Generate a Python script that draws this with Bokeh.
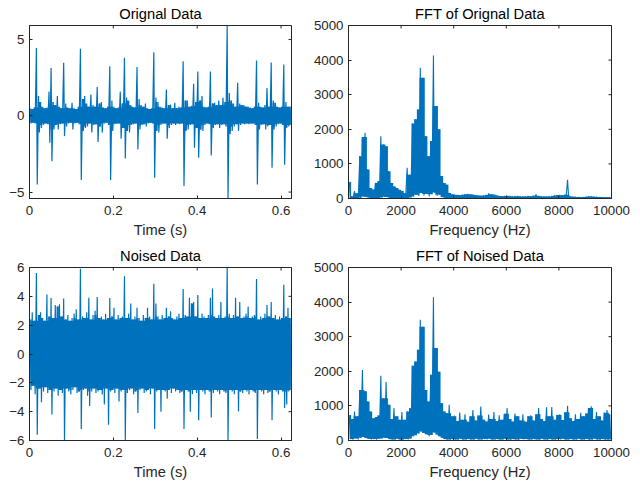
import numpy as np
from bokeh.plotting import figure
from bokeh.models import Range1d, FixedTicker
from bokeh.layouts import row, column
from bokeh.embed import file_html
from bokeh.resources import INLINE

# ---------------- data ----------------
DT = 0.005     # seconds per envelope column (time plots)
DF = 100       # Hz per envelope column (FFT plots)

# Original signal: per-column max / min
orig_hi = [0.5, 0.45, 0.55, 4.45, 1.3, 0.9, 0.6, 0.5, 0.55, 1.6,
           3.14, 0.9, 0.7, 1.29, 0.6, 0.5, 3.47, 0.8, 0.55, 0.5,
           0.85, 0.5, 0.45, 0.6, 4.39, 1.1, 1.3, 0.8, 0.6, 1.4,
           0.7, 0.6, 1.88, 0.8, 0.9, 0.55, 0.5, 0.6, 3.25, 1.0,
           0.6, 0.5, 0.55, 1.6, 0.8, 3.8, 1.2, 1.0, 0.7, 0.6,
           0.55, 3.2, 1.1, 0.7, 0.6, 0.8, 0.5, 0.45, 0.5, 4.17,
           1.2, 0.9, 0.6, 0.55, 0.5, 1.72, 0.7, 0.74, 0.5, 0.85,
           0.5, 0.6, 0.55, 3.58, 1.0, 1.0, 0.6, 0.65, 2.1, 0.9,
           2.9, 1.0, 1.3, 0.6, 0.55, 0.6, 2.9, 0.8, 0.85, 0.7,
           1.0, 0.7, 1.18, 0.9, 5.92, 1.5, 1.0, 0.8, 0.6, 2.16,
           0.8, 0.7, 0.7, 0.6, 0.6, 0.55, 0.5, 0.6, 3.62, 0.85,
           0.6, 0.55, 0.7, 1.83, 0.6, 3.5, 1.0, 0.85, 0.6, 0.55,
           0.6, 3.36, 0.9, 0.6, 0.6]
orig_lo = [-0.5, -0.45, -0.5, -4.5, -1.1, -0.8, -0.6, -0.5, -0.55, -1.77,
           -2.97, -0.9, -0.6, -0.9, -0.55, -0.5, -1.33, -0.7, -0.5, -0.45,
           -0.9, -0.5, -0.45, -0.55, -4.2, -1.0, -0.8, -0.7, -0.5, -1.1,
           -0.6, -0.55, -1.72, -0.7, -1.1, -0.5, -0.45, -0.6, -4.2, -1.0,
           -0.55, -0.5, -0.5, -1.5, -0.8, -2.8, -1.0, -1.1, -0.6, -0.55,
           -0.5, -2.2, -0.9, -0.6, -0.55, -0.7, -0.5, -0.45, -0.5, -4.06,
           -1.0, -1.1, -0.6, -0.5, -0.5, -1.5, -0.8, -0.6, -0.5, -0.6,
           -0.5, -0.55, -0.5, -4.6, -1.0, -0.9, -0.6, -0.55, -2.1, -0.8,
           -2.75, -0.9, -1.0, -0.6, -0.5, -0.55, -2.6, -0.8, -0.6, -0.55,
           -0.8, -0.6, -0.55, -0.7, -5.42, -1.2, -1.0, -0.7, -0.55, -1.0,
           -0.6, -0.5, -0.55, -0.5, -0.55, -0.5, -0.5, -0.6, -4.5, -0.9,
           -0.6, -0.55, -0.9, -0.7, -0.6, -3.4, -0.9, -0.7, -0.55, -0.5,
           -0.6, -3.2, -0.8, -0.7, -0.6]

# Noised signal: per-column max / min
noised_hi = [2.4, 2.9, 2.3, 5.62, 2.7, 2.9, 2.5, 2.3, 4.12, 2.6,
             3.89, 2.5, 3.4, 3.3, 3.45, 2.6, 3.85, 2.4, 2.7, 2.3,
             2.5, 2.8, 3.1, 2.4, 5.92, 2.6, 2.5, 2.9, 3.9, 2.4,
             2.7, 3.0, 3.95, 2.5, 2.6, 2.4, 2.8, 2.5, 3.89, 2.6,
             3.2, 2.4, 2.7, 2.5, 2.6, 5.4, 2.5, 2.8, 3.5, 2.4,
             2.6, 3.2, 2.5, 2.3, 2.7, 2.5, 3.2, 2.6, 2.4, 4.88,
             3.5, 2.6, 2.4, 2.7, 2.5, 3.2, 2.6, 2.96, 2.5, 2.4,
             2.6, 2.8, 2.5, 4.5, 2.7, 2.6, 3.9, 3.5, 3.6, 2.6,
             4.1, 2.5, 2.8, 2.6, 2.5, 2.7, 3.9, 4.55, 2.6, 2.5,
             2.7, 3.6, 2.5, 2.6, 6.0, 2.8, 2.5, 2.7, 3.9, 2.6,
             3.6, 2.5, 2.6, 2.8, 3.3, 2.5, 2.6, 2.7, 5.2, 2.4,
             2.6, 2.5, 2.8, 3.4, 2.6, 3.6, 2.5, 2.7, 2.4, 2.6,
             2.5, 4.8, 2.6, 3.2, 2.5]
noised_lo = [-2.5, -2.2, -2.8, -5.6, -2.4, -3.35, -2.6, -2.3, -2.7, -2.5,
             -4.2, -2.6, -2.4, -2.9, -2.5, -2.7, -6.0, -2.4, -2.6, -2.8,
             -2.5, -2.3, -2.7, -2.6, -5.2, -2.5, -2.4, -2.9, -3.6, -2.6,
             -2.4, -2.7, -2.6, -2.5, -2.8, -3.5, -2.4, -4.9, -2.6, -2.5,
             -2.7, -2.4, -3.3, -2.6, -2.5, -6.0, -2.7, -2.5, -2.4, -2.8,
             -2.6, -4.1, -2.5, -2.4, -2.7, -2.6, -2.5, -2.8, -2.4, -5.2,
             -2.6, -2.5, -4.0, -2.5, -2.6, -3.1, -2.5, -2.7, -2.4, -2.6,
             -2.5, -2.7, -2.6, -5.2, -2.5, -2.6, -4.0, -2.8, -2.5, -2.7,
             -4.6, -2.5, -2.6, -2.8, -2.5, -2.6, -4.4, -2.7, -2.5, -2.6,
             -2.8, -2.5, -2.6, -2.7, -6.0, -2.5, -2.6, -2.8, -2.5, -3.98,
             -2.6, -2.7, -2.5, -2.6, -2.8, -2.5, -2.6, -2.7, -5.9, -2.5,
             -2.6, -2.8, -2.5, -2.7, -2.6, -4.6, -2.5, -2.6, -2.8, -2.5,
             -2.6, -3.75, -3.5, -2.6, -2.5]

# FFT magnitude of the original signal: per-100-Hz max / min
fft_orig_hi = [480, 60, 210, 150, 1220, 1780, 1900, 840, 300, 260,
               450, 500, 1800, 1560, 1510, 790, 450, 350, 300, 250,
               220, 150, 890, 690, 2170, 2290, 2570, 3780, 3490, 1800,
               1220, 1660, 4130, 2670, 2000, 650, 450, 400, 160, 120,
               110, 100, 95, 110, 125, 130, 120, 110, 95, 85,
               80, 90, 100, 145, 120, 110, 85, 70, 65, 70,
               80, 70, 60, 65, 70, 60, 55, 60, 70, 65,
               80, 120, 75, 60, 55, 55, 60, 70, 85, 95,
               100, 95, 110, 540, 60, 50, 45, 40, 35, 40,
               50, 60, 60, 50, 45, 40, 35, 30, 30, 35]
fft_orig_lo = [10, 5, 15, 10, 20, 60, 40, 30, 10, 10,
               15, 10, 30, 50, 40, 25, 15, 10, 10, 5,
               5, 5, 10, 30, 60, 110, 70, 160, 90, 130,
               60, 120, 170, 80, 110, 40, 20, 10, 5, 5,
               10, 5, 5, 10, 15, 10, 5, 5, 5, 10,
               5, 10, 15, 10, 5, 5, 10, 5, 5, 5,
               5, 5, 5, 5, 5, 5, 5, 5, 10, 5,
               5, 10, 5, 5, 5, 5, 5, 5, 10, 10,
               10, 10, 15, 10, 5, 5, 5, 5, 5, 5,
               5, 5, 5, 5, 5, 5, 5, 5, 5, 5]

# FFT magnitude of the noised signal: per-100-Hz max / min
fft_noised_hi = [740, 620, 840, 700, 1460, 2040, 1420, 1130, 840, 640,
                 680, 720, 1870, 1220, 1690, 1030, 620, 935, 700, 600,
                 820, 600, 840, 935, 2160, 2280, 2620, 3490, 3290, 1460,
                 1130, 1900, 4140, 2670, 1990, 1080, 840, 790, 1030, 700,
                 720, 560, 810, 600, 760, 540, 700, 880, 580, 720,
                 980, 600, 550, 750, 620, 820, 560, 730, 600, 770,
                 940, 620, 550, 780, 700, 580, 760, 540, 700, 730,
                 580, 760, 940, 620, 560, 960, 700, 970, 600, 740,
                 760, 590, 820, 1000, 640, 560, 760, 620, 800, 700,
                 780, 940, 990, 620, 820, 700, 580, 800, 880, 760]
fft_noised_lo = [40, 20, 60, 30, 80, 100, 70, 50, 30, 40,
                 20, 50, 60, 80, 70, 40, 30, 20, 50, 30,
                 20, 40, 30, 60, 120, 150, 200, 260, 220, 180,
                 120, 160, 230, 170, 120, 80, 40, 30, 20, 40,
                 30, 20, 50, 30, 20, 40, 30, 20, 50, 30,
                 20, 40, 30, 50, 20, 30, 40, 20, 30, 50,
                 30, 20, 40, 30, 20, 50, 30, 40, 20, 30,
                 40, 30, 20, 50, 30, 20, 40, 30, 20, 40,
                 30, 50, 20, 30, 40, 20, 30, 50, 20, 30,
                 40, 20, 30, 50, 30, 20, 40, 30, 20, 30]

time_ticks = [0, 0.2, 0.4, 0.6]
freq_ticks = [0, 2000, 4000, 6000, 8000, 10000]
orig_yticks = [-5, 0, 5]
noised_yticks = [-6, -4, -2, 0, 2, 4, 6]
fft_yticks = [0, 1000, 2000, 3000, 4000, 5000]

titles = ["Orignal Data", "FFT of Orignal Data", "Noised Data", "FFT of Noised Data"]
time_label = "Time (s)"
freq_label = "Frequency (Hz)"

# ---------------- styling ----------------
LINE = "#0072BD"
AX = "#262626"
FONT = "Liberation Sans"
FRAME_W_L, FRAME_W_R, FRAME_H = 262, 263, 173
TICK_PX = 3


def zigzag(hi, lo, step):
    n = len(hi)
    k = np.arange(n)
    x = np.empty(2 * n)
    y = np.empty(2 * n)
    x[0::2] = (k + 0.3) * step
    x[1::2] = (k + 0.7) * step
    y[0::2] = hi
    y[1::2] = lo
    return x, y


def core(hi, lo, step, strict):
    """Solid part of the trace, shared by a column and its neighbours."""
    h = np.pad(np.asarray(hi, float), 1, mode="edge")
    l = np.pad(np.asarray(lo, float), 1, mode="edge")
    if strict:
        ch = np.minimum(np.minimum(h[:-2], h[1:-1]), h[2:])
        cl = np.maximum(np.maximum(l[:-2], l[1:-1]), l[2:])
    else:
        ch = np.minimum(h[1:-1], np.maximum(h[:-2], h[2:]))
        cl = np.maximum(l[1:-1], np.minimum(l[:-2], l[2:]))
    x = (np.arange(len(hi)) + 0.5) * step
    return x, cl, ch


def make(title, xr, yr, xticks, yticks, xlabel, w, h, bl, br, bt, bb, fw, xover=None):
    p = figure(width=w, height=h, x_range=Range1d(*xr), y_range=Range1d(*yr),
               output_backend="svg", toolbar_location=None,
               min_border_left=bl, min_border_right=br,
               min_border_top=bt, min_border_bottom=bb,
               background_fill_color="white", border_fill_color="white")
    p.title.text = title
    p.title.align = "center"
    p.title.text_font = FONT
    p.title.text_font_size = "14.7px"
    p.title.text_font_style = "normal"
    p.title.text_color = "#000000"
    p.title.standoff = 7
    p.xgrid.visible = False
    p.ygrid.visible = False
    p.outline_line_color = AX
    p.outline_line_width = 1

    p.xaxis.ticker = FixedTicker(ticks=xticks)
    p.yaxis.ticker = FixedTicker(ticks=yticks)
    if xover:
        p.xaxis.major_label_overrides = xover
    p.xaxis.axis_label = xlabel
    for ax in (p.xaxis[0], p.yaxis[0]):
        ax.major_tick_in = TICK_PX
        ax.major_tick_out = 0
        ax.minor_tick_in = 0
        ax.minor_tick_out = 0
        ax.axis_line_color = AX
        ax.major_tick_line_color = AX
        ax.major_label_text_font = FONT
        ax.major_label_text_font_size = "13.3px"
        ax.major_label_text_color = AX
        ax.axis_label_text_font = FONT
        ax.axis_label_text_font_size = "14.7px"
        ax.axis_label_text_font_style = "normal"
        ax.axis_label_text_color = AX
    p.xaxis.major_label_standoff = 7
    p.xaxis.axis_label_standoff = 4
    p.yaxis.major_label_standoff = 5

    # mirrored tick marks on the top and right edges (box on)
    ly = TICK_PX * (yr[1] - yr[0]) / FRAME_H
    lx = TICK_PX * (xr[1] - xr[0]) / fw
    p.segment(x0=xticks, y0=[yr[1]] * len(xticks), x1=xticks, y1=[yr[1] - ly] * len(xticks),
              line_color=AX, line_width=1)
    p.segment(x0=[xr[1]] * len(yticks), y0=yticks, x1=[xr[1] - lx] * len(yticks), y1=yticks,
              line_color=AX, line_width=1)
    return p


def draw(p, hi, lo, step, lw, strict):
    xc, cl, ch = core(hi, lo, step, strict)
    p.varea_step(x=xc, y1=cl, y2=ch, step_mode="center", fill_color=LINE, fill_alpha=1)
    x, y = zigzag(hi, lo, step)
    p.line(x, y, line_color=LINE, line_width=lw)


xo = {0: "0"}
p1 = make(titles[0], (0, 0.6249), (-5.42, 5.92), time_ticks, orig_yticks, time_label,
          305, 242, 29, 14, 25, 44, FRAME_W_L, xo)
draw(p1, orig_hi, orig_lo, DT, 1.2, True)

p2 = make(titles[1], (0, 10000), (0, 5000), freq_ticks, fft_yticks, freq_label,
          335, 242, 43, 29, 25, 44, FRAME_W_R)
draw(p2, fft_orig_hi, fft_orig_lo, DF, 1.1, False)

p3 = make(titles[2], (0, 0.6249), (-6, 6), time_ticks, noised_yticks, time_label,
          305, 243, 29, 14, 25, 45, FRAME_W_L, xo)
draw(p3, noised_hi, noised_lo, DT, 1.2, True)

p4 = make(titles[3], (0, 10000), (0, 5000), freq_ticks, fft_yticks, freq_label,
          335, 243, 43, 29, 25, 45, FRAME_W_R)
draw(p4, fft_noised_hi, fft_noised_lo, DF, 1.1, False)

layout = column(row(p1, p2), row(p3, p4))
open("out.html", "w").write(file_html(layout, INLINE))
